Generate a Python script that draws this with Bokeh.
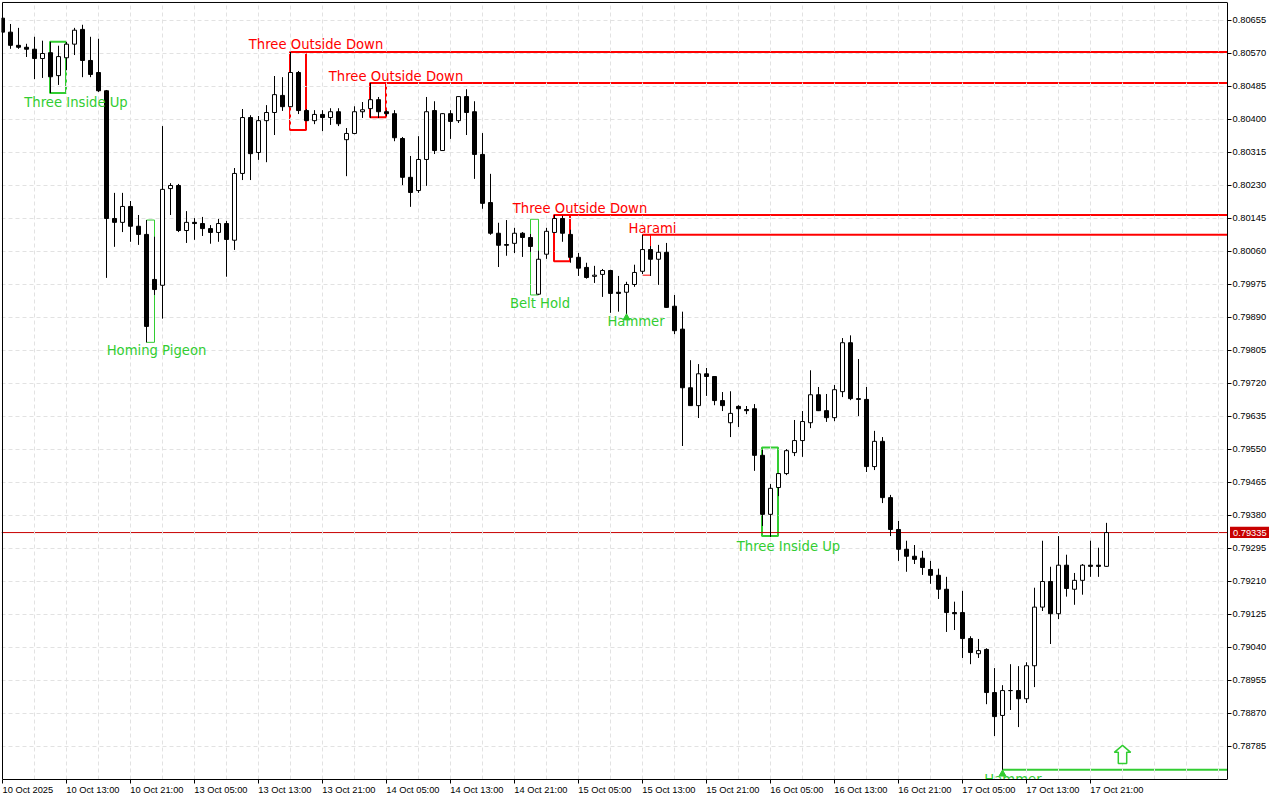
from bokeh.plotting import figure
from bokeh.embed import file_html
from bokeh.resources import INLINE
from bokeh.models import FixedTicker, LinearAxis, Range1d
from bokeh.core.properties import value

opens = [0.80661,0.80625,0.80591,0.80586,0.80581,0.80557,0.80572,0.80513,0.80559,0.80594,0.80632,0.80552,0.80521,0.80474,0.80145,0.80135,0.80176,0.80125,0.80104,0.79988,
0.79973,0.80222,0.80230,0.80114,0.80135,0.80132,0.80119,0.80109,0.80132,0.80089,0.80261,0.80405,0.80315,0.80397,0.80418,0.80462,0.80433,0.80521,0.80423,0.80397,
0.80413,0.80405,0.80420,0.80348,0.80364,0.80420,0.80428,0.80451,0.80420,0.80415,0.80351,0.80251,0.80217,0.80297,0.80423,0.80320,0.80415,0.80397,0.80459,0.80420,
0.80310,0.80186,0.80107,0.80078,0.80081,0.80107,0.80096,0.79950,0.80053,0.80109,0.80145,0.80104,0.80045,0.80019,0.79996,0.80001,0.80011,0.79955,0.79955,0.79975,
0.80009,0.80065,0.80040,0.80058,0.79919,0.79860,0.79709,0.79663,0.79745,0.79738,0.79676,0.79619,0.79661,0.79653,0.79655,0.79535,0.79383,0.79452,0.79488,0.79542,
0.79573,0.79619,0.79691,0.79650,0.79632,0.79699,0.79825,0.79681,0.79679,0.79506,0.79571,0.79426,0.79344,0.79293,0.79275,0.79270,0.79241,0.79226,0.79190,0.79130,
0.79130,0.79063,0.79024,0.79035,0.78924,0.78865,0.78929,0.78929,0.78908,0.78993,0.79144,0.79210,0.79127,0.79252,0.79190,0.79213,0.79252,0.79252,0.79249]
highs = [0.80662,0.80646,0.80636,0.80595,0.80613,0.80603,0.80600,0.80590,0.80600,0.80636,0.80644,0.80613,0.80608,0.80476,0.80211,0.80211,0.80190,0.80154,0.80141,0.80098,
0.80383,0.80236,0.80234,0.80164,0.80146,0.80149,0.80128,0.80144,0.80139,0.80275,0.80427,0.80411,0.80409,0.80437,0.80512,0.80509,0.80574,0.80525,0.80427,0.80424,
0.80424,0.80429,0.80429,0.80378,0.80434,0.80445,0.80494,0.80458,0.80424,0.80424,0.80355,0.80306,0.80357,0.80458,0.80447,0.80416,0.80424,0.80460,0.80478,0.80447,
0.80365,0.80260,0.80134,0.80141,0.80121,0.80110,0.80105,0.80062,0.80121,0.80154,0.80152,0.80116,0.80056,0.80031,0.80023,0.80015,0.80013,0.79997,0.79982,0.80026,
0.80103,0.80074,0.80077,0.80082,0.79948,0.79905,0.79780,0.79770,0.79760,0.79739,0.79698,0.79700,0.79664,0.79662,0.79667,0.79549,0.79461,0.79489,0.79551,0.79626,
0.79649,0.79754,0.79711,0.79693,0.79716,0.79837,0.79844,0.79783,0.79711,0.79598,0.79582,0.79433,0.79366,0.79315,0.79304,0.79289,0.79263,0.79243,0.79222,0.79158,
0.79186,0.79069,0.79062,0.79038,0.78987,0.78943,0.78997,0.78992,0.79002,0.79194,0.79315,0.79248,0.79327,0.79279,0.79232,0.79255,0.79315,0.79297,0.79361]
lows = [0.80622,0.80582,0.80582,0.80561,0.80504,0.80507,0.80468,0.80489,0.80527,0.80566,0.80509,0.80509,0.80471,0.79992,0.80072,0.80110,0.80085,0.80077,0.79826,0.79948,
0.79887,0.80154,0.80110,0.80082,0.80090,0.80100,0.80080,0.80085,0.79995,0.80064,0.80244,0.80244,0.80296,0.80290,0.80360,0.80422,0.80432,0.80414,0.80396,0.80388,
0.80370,0.80386,0.80383,0.80254,0.80362,0.80404,0.80404,0.80404,0.80409,0.80344,0.80231,0.80175,0.80211,0.80229,0.80311,0.80319,0.80350,0.80391,0.80360,0.80247,
0.80170,0.80103,0.80020,0.80049,0.80056,0.80046,0.80059,0.79948,0.80041,0.80108,0.80085,0.80031,0.79997,0.79990,0.79979,0.79943,0.79902,0.79905,0.79899,0.79969,
0.80002,0.79997,0.79974,0.79915,0.79847,0.79559,0.79662,0.79631,0.79688,0.79664,0.79649,0.79582,0.79608,0.79641,0.79495,0.79353,0.79325,0.79430,0.79484,0.79533,
0.79531,0.79605,0.79649,0.79621,0.79623,0.79685,0.79677,0.79636,0.79492,0.79497,0.79412,0.79327,0.79263,0.79235,0.79255,0.79227,0.79204,0.79165,0.79080,0.79085,
0.79013,0.78997,0.79013,0.78894,0.78812,0.78725,0.78879,0.78835,0.78897,0.78938,0.79134,0.79049,0.79113,0.79171,0.79150,0.79176,0.79222,0.79222,0.79248]
closes = [0.80625,0.80591,0.80586,0.80581,0.80557,0.80570,0.80510,0.80562,0.80594,0.80630,0.80552,0.80516,0.80474,0.80145,0.80135,0.80176,0.80125,0.80104,0.79867,0.79962,
0.80220,0.80230,0.80114,0.80135,0.80132,0.80119,0.80109,0.80132,0.80091,0.80261,0.80405,0.80312,0.80397,0.80418,0.80464,0.80433,0.80521,0.80423,0.80397,0.80413,
0.80405,0.80420,0.80389,0.80364,0.80420,0.80425,0.80451,0.80420,0.80415,0.80353,0.80251,0.80212,0.80297,0.80420,0.80320,0.80415,0.80395,0.80459,0.80418,0.80310,
0.80184,0.80107,0.80076,0.80076,0.80107,0.80096,0.80073,0.80040,0.80112,0.80145,0.80107,0.80045,0.80017,0.79993,0.79999,0.80011,0.79952,0.79952,0.79975,0.80006,
0.80065,0.80040,0.80058,0.79916,0.79856,0.79709,0.79663,0.79745,0.79738,0.79676,0.79663,0.79643,0.79655,0.79650,0.79535,0.79383,0.79450,0.79488,0.79547,0.79573,
0.79622,0.79691,0.79650,0.79632,0.79704,0.79825,0.79681,0.79679,0.79506,0.79571,0.79426,0.79344,0.79293,0.79275,0.79267,0.79246,0.79226,0.79190,0.79130,0.79127,
0.79063,0.79027,0.79032,0.78924,0.78862,0.78929,0.78929,0.78908,0.78993,0.79144,0.79210,0.79127,0.79252,0.79192,0.79213,0.79252,0.79249,0.79249,0.79336]

x_labels = ["10 Oct 2025","10 Oct 13:00","10 Oct 21:00","13 Oct 05:00","13 Oct 13:00","13 Oct 21:00","14 Oct 05:00","14 Oct 13:00","14 Oct 21:00",
            "15 Oct 05:00","15 Oct 13:00","15 Oct 21:00","16 Oct 05:00","16 Oct 13:00","16 Oct 21:00","17 Oct 05:00","17 Oct 13:00","17 Oct 21:00"]
y_ticks = [0.80655,0.80570,0.80485,0.80400,0.80315,0.80230,0.80145,0.80060,0.79975,0.79890,0.79805,0.79720,0.79635,0.79550,0.79465,0.79380,0.79295,0.79210,0.79125,0.79040,0.78955,0.78870,0.78785]
last_price_text = "0.79335"
last_price_line = 0.79336
tag_top, tag_bottom = 0.79351, 0.79322

box_start = [6,18,36,46,69,80,66,95]
box_end = [8,19,38,48,71,81,67,97]
box_top = [0.80600,0.80141,0.80574,0.80494,0.80154,0.80103,0.80143,0.79555]
box_bottom = [0.80468,0.79826,0.80373,0.80406,0.80035,0.79999,0.79948,0.79327]
box_color = ["limegreen","limegreen","red","red","red","red","limegreen","limegreen"]
box_thick = [2,1,2,2,2,1,1,2]

ray_start = [36,46,69,80,125]
ray_price = [0.80574,0.80494,0.80154,0.80103,0.78725]
ray_color = ["red","red","red","red","limegreen"]

name_text = ["Three Inside Up","Homing Pigeon","Three Outside Down","Three Outside Down","Three Outside Down","Harami","Belt Hold","Hammer","Three Inside Up","Hammer"]
name_bar = [9.19,19.25,39.19,49.19,72.19,81.25,67.19,79.19,98.25,126.31]
name_price = [0.80444,0.79806,0.80592,0.80511,0.80172,0.80119,0.79925,0.79879,0.79301,0.78701]
name_color = ["limegreen","limegreen","red","red","red","red","limegreen","limegreen","limegreen","limegreen"]

hammer_bar = [78,125]
hammer_price = [0.79889,0.78714]
arrow_bar = 140
arrow_tip, arrow_neck, arrow_tail = 0.78788, 0.78770, 0.78741

X0, X1 = -0.125, 159.75
Y0, Y1 = 0.787000, 0.807039
X_AXIS = 153.125          # the price axis stands here, the price tag lies to its right
Y_TOP = 0.807014          # top edge of the chart box
FONT = "Liberation Sans"
AXIS_SIZE = "9.3px"

p = figure(width=1280, height=800, output_backend="svg", toolbar_location=None,
           x_range=Range1d(X0, X1), y_range=Range1d(Y0, Y1), y_axis_location="right",
           min_border_left=1, min_border_right=0, min_border_top=1, min_border_bottom=21,
           outline_line_color=None, background_fill_color="white", border_fill_color="white")

xa = p.xaxis[0]
xa.ticker = FixedTicker(ticks=[8*i for i in range(len(x_labels))])
xa.major_label_overrides = {8*i: "" for i in range(len(x_labels))}
xa.major_label_standoff = 0
xa.major_tick_out = 4; xa.major_tick_in = 0; xa.minor_tick_out = 0; xa.minor_tick_in = 0
xa.axis_line_color = "black"; xa.major_tick_line_color = "black"
xa.bounds = (0, X_AXIS)

# time labels begin at their tick: a second axis carries them, shifted by half a label
label_ticks = [round(8*i + (3.17 if i == 0 else 3.3), 2) for i in range(len(x_labels))]
xb = LinearAxis(ticker=FixedTicker(ticks=label_ticks),
                major_label_overrides=dict(zip(label_ticks, x_labels)),
                major_tick_out=0, major_tick_in=0, minor_tick_out=0, minor_tick_in=0,
                major_tick_line_color=None, axis_line_color=None, major_label_standoff=1,
                major_label_text_font=FONT, major_label_text_font_size=AXIS_SIZE, major_label_text_color="black")
p.add_layout(xb, "below")

ya = p.yaxis[0]
ya.fixed_location = X_AXIS
ya.bounds = (Y0, Y_TOP)
ya.ticker = FixedTicker(ticks=y_ticks)
ya.major_label_overrides = {t: f"{t:.5f}" for t in y_ticks}
ya.major_tick_out = 4; ya.major_tick_in = 0; ya.minor_tick_out = 0; ya.minor_tick_in = 0
ya.major_label_standoff = 1
ya.major_label_text_font = FONT; ya.major_label_text_font_size = AXIS_SIZE; ya.major_label_text_color = "black"
ya.axis_line_color = "black"; ya.major_tick_line_color = "black"
p.xgrid[0].ticker = FixedTicker(ticks=[4*i for i in range(39)])
p.ygrid[0].ticker = FixedTicker(ticks=y_ticks)
for g in (p.xgrid[0], p.ygrid[0]):
    g.grid_line_color = "#e2e2e2"; g.grid_line_dash = "4 3"; g.grid_line_width = 1

# below the grid
p.segment(ray_start, ray_price, [X_AXIS]*len(ray_start), ray_price, line_color=ray_color, line_width=2, level="image")
nudge = [0.0625 if t == 2 else 0 for t in box_thick]
p.quad(left=[s-n for s, n in zip(box_start, nudge)], right=[e-n for e, n in zip(box_end, nudge)],
       top=box_top, bottom=box_bottom, fill_color=None, line_color=box_color, line_width=box_thick, level="image")
p.segment([X0], [last_price_line], [X_AXIS], [last_price_line], line_color="#c80000", line_width=1, level="image")

# candles
bars = list(range(len(opens)))
p.segment(bars, highs, bars, lows, line_color="black", line_width=1)
up = [i for i in bars if closes[i] >= opens[i]]
dn = [i for i in bars if closes[i] < opens[i]]
p.vbar(x=up, width=0.5, top=[closes[i] for i in up], bottom=[opens[i] for i in up], fill_color="white", line_color="black", line_width=1)
p.vbar(x=dn, width=0.5, top=[opens[i] for i in dn], bottom=[closes[i] for i in dn], fill_color="black", line_color="black", line_width=1)

# names and arrows
p.text(name_bar, name_price, text=name_text, text_color=name_color, text_font=value("DejaVu Sans"),
       text_font_size="13.2px", text_align="center", text_baseline="middle")
p.scatter(hammer_bar, hammer_price, marker="triangle", size=7, color="limegreen")
p.patch([arrow_bar, arrow_bar+1.025, arrow_bar+0.525, arrow_bar+0.525, arrow_bar-0.525, arrow_bar-0.525, arrow_bar-1.025],
        [arrow_tip, arrow_neck, arrow_neck, arrow_tail, arrow_tail, arrow_neck, arrow_neck],
        fill_color="white", line_color="limegreen", line_width=1.5)

# box edges and the strip that holds the price labels
p.segment([0, 0], [Y0, Y_TOP], [0, X_AXIS], [Y_TOP, Y_TOP], line_color="black", line_width=1)
p.quad(left=[X_AXIS], right=[X1], top=[Y1], bottom=[Y0], fill_color="white", line_color=None)

# last price tag
p.quad(left=[153.4375], right=[158.3125], top=[tag_top], bottom=[tag_bottom], fill_color="#c80000", line_color=None)
p.text([153.81], [last_price_line], text=[last_price_text], text_color="white", text_font=value(FONT),
       text_font_size=AXIS_SIZE, text_align="left", text_baseline="middle")

open("out.html", "w").write(file_html(p, INLINE))
